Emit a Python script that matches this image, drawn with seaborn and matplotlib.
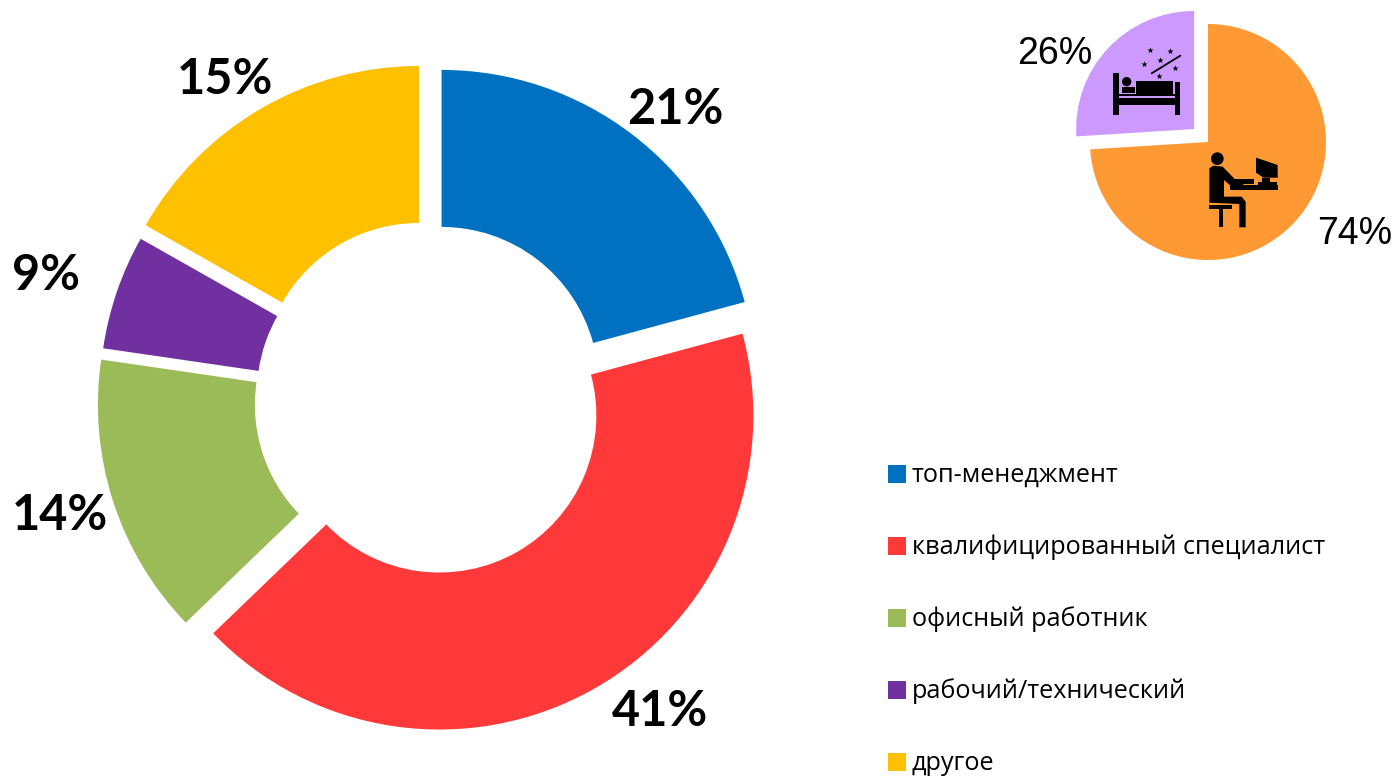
# sleep_work_pies.py

import matplotlib
matplotlib.use("Agg")
import matplotlib.pyplot as plt
from matplotlib.patches import Circle, Polygon, Rectangle
import seaborn as sns

sns.set_style("white")
plt.rcParams['font.family'] = ['Liberation Sans', 'DejaVu Sans']

# Main donut
job_labels = ['топ-менеджмент', 'квалифицированный специалист', 'офисный работник',
              'рабочий/технический', 'другое']
job_text = ['21%', '41%', '14%', '9%', '15%']
# slice widths as drawn in the picture (they do not quite follow the printed labels)
job_shares = [20.8, 42.0, 14.5, 5.9, 16.8]
job_colors = ['#0070C0', '#FF3939', '#9BBB59', '#7030A0', '#FFC000']

# Small pie
time_text = ['74%', '26%']
time_shares = [74, 26]
time_colors = ['#FF9933', '#CC99FF']

W, H = 1396, 777
fig = plt.figure(figsize=(W / 100, H / 100), dpi=100)
ax = fig.add_axes([0, 0, 1, 1])

# Donut, pixel coordinates with y flipped (explode is in data units here)
ax.pie(job_shares, colors=job_colors, center=(430, H - 399), radius=314,
       startangle=90, counterclock=False,
       explode=[19, 19, 19, 17, 22],
       wedgeprops=dict(width=157, linewidth=0))

# Small pie
ax.pie(time_shares, colors=time_colors, center=(1208, H - 142), radius=118,
       startangle=90, counterclock=False, explode=[0, 19],
       wedgeprops=dict(linewidth=0))

ax.set_xlim(0, W)
ax.set_ylim(0, H)
ax.set_aspect('equal')
ax.axis('off')


# Icon helpers, coordinates measured on a 3x crop starting at x=1000
def pt(zx, zy):
    return (1000 + zx / 3, H - zy / 3)


def box(x0, y0, x1, y1):
    ax.add_patch(Rectangle(pt(x0, y1), (x1 - x0) / 3, (y1 - y0) / 3, color='black', lw=0, zorder=5))


def poly(points):
    ax.add_patch(Polygon([pt(x, y) for x, y in points], color='black', lw=0, zorder=5))


def dot(x, y, r):
    ax.add_patch(Circle(pt(x, y), r / 3, color='black', lw=0, zorder=5))


# Person at the desk
dot(652, 476, 19)
poly([(628, 505), (640, 497), (668, 500), (705, 538), (730, 545), (730, 560), (695, 560),
      (672, 540), (672, 590), (725, 590), (737, 605), (737, 682), (718, 682), (718, 612),
      (628, 608)])
box(628, 614, 695, 628)
box(656, 628, 670, 682)
box(690, 555, 833, 570)
box(705, 538, 762, 552)
poly([(768, 473), (833, 495), (833, 533), (790, 533), (768, 518)])
box(785, 533, 810, 546)
box(775, 545, 830, 555)

# Bed and stars
box(340, 218, 358, 345)
box(525, 245, 541, 345)
box(340, 295, 541, 315)
box(358, 283, 525, 289)
dot(380, 245, 14)
box(366, 262, 405, 280)
box(408, 243, 518, 281)
ax.plot(*zip(pt(455, 220), pt(541, 167)), color='black', lw=1.3, zorder=5)
star_x = [450, 510, 480, 432, 525, 476]
star_y = [150, 152, 180, 192, 205, 228]
ax.scatter([pt(x, y)[0] for x, y in zip(star_x, star_y)],
           [pt(x, y)[1] for x, y in zip(star_x, star_y)],
           marker='*', s=22, color='black', linewidths=0, zorder=5)
ax.set_xlim(0, W)
ax.set_ylim(0, H)

# Percent labels
job_pos = [(675, 110), (660, 711), (60, 515), (46, 275), (225, 79)]
for txt, (x, y) in zip(job_text, job_pos):
    ax.text(x, H - y, txt, fontsize=35, fontweight='bold', family=['Lato', 'DejaVu Sans'],
            ha='center', va='center', color='black')

ax.text(1055, H - 54, time_text[1], fontsize=27, ha='center', va='center', color='black')
ax.text(1355, H - 234, time_text[0], fontsize=27, ha='center', va='center', color='black')

# Legend
legend_y = [473.5, 545.5, 617.5, 690, 762]
for name, col, y in zip(job_labels, job_colors, legend_y):
    ax.scatter(896.5, H - y, marker='s', s=150, color=col, linewidths=0)
    ax.text(912, H - y - 1.5, name, fontsize=18.2, family=['Open Sans', 'DejaVu Sans'],
            ha='left', va='center', color='black')

fig.savefig("out.png", dpi=100)
